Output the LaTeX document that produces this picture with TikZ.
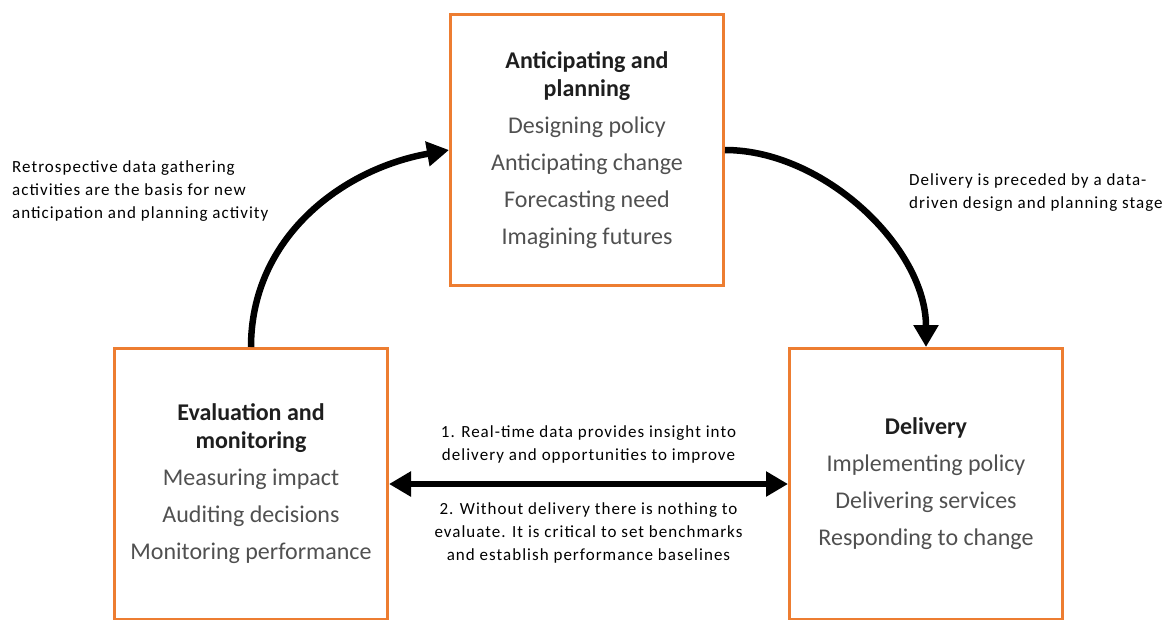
\documentclass[tikz,border=0pt]{standalone}
\usepackage{fontspec}
\setmainfont{Carlito}
\usetikzlibrary{arrows.meta}
\usetikzlibrary{positioning}

\definecolor{boxorange}{HTML}{ED7D31}
\definecolor{itemgray}{HTML}{505050}
\definecolor{headgray}{HTML}{1E1E1E}

\newcommand{\boxhead}[1]{\textbf{\textcolor{headgray}{#1}}}

\begin{document}
\begin{tikzpicture}[x=1pt, y=-1pt,
    >={Triangle[length=22pt, width=24pt]},
    stagebox/.style={draw=boxorange, line width=3pt, minimum width=273pt,
      minimum height=271pt, align=center, text=itemgray,
      font=\fontsize{24}{37}\selectfont},
    note/.style={align=left, inner sep=0pt,
      font=\fontsize{17}{23}\selectfont\addfontfeature{LetterSpace=6}},
    flow/.style={line width=6.5pt}]
      \useasboundingbox (0,0) rectangle (1174,619);

      \node[stagebox] (plan) at (587,150)
           {\boxhead{Anticipating and}\\[-9pt]\boxhead{planning}\\
            Designing policy\\ Anticipating change\\
            Forecasting need\\ Imagining futures};
      \node[stagebox, below=60pt of plan, xshift=-336pt] (eval)
           {\boxhead{Evaluation and}\\[-9pt]\boxhead{monitoring}\\
            Measuring impact\\ Auditing decisions\\
            Monitoring performance};
      \node[stagebox, below=60pt of plan, xshift=339pt] (deliv)
           {\boxhead{Delivery}\\ Implementing policy\\
            Delivering services\\ Responding to change};

      \node[note, anchor=north west] (retro) at (12,160)
           {Retrospective data gathering\\
            activities are the basis for new\\
            anticipation and planning activity};
      \node[note, anchor=north west] (precede) at (909,173)
           {Delivery is preceded by a data-\\
            driven design and planning stage};

      \draw[flow, ->] (eval.north) to[out=90, in=190] (plan.west);
      \draw[flow, ->] (plan.east) to[out=0, in=90, looseness=0.9] (deliv.north);
      \draw[flow, <->] (eval) --
           node[note, align=center, above=18pt] (realtime)
           {1. Real-time data provides insight into\\
            delivery and opportunities to improve}
           node[note, align=center, below=15pt] (without)
           {2. Without delivery there is nothing to\\
            evaluate. It is critical to set benchmarks\\
            and establish performance baselines}
           (deliv);
\end{tikzpicture}
\end{document}
